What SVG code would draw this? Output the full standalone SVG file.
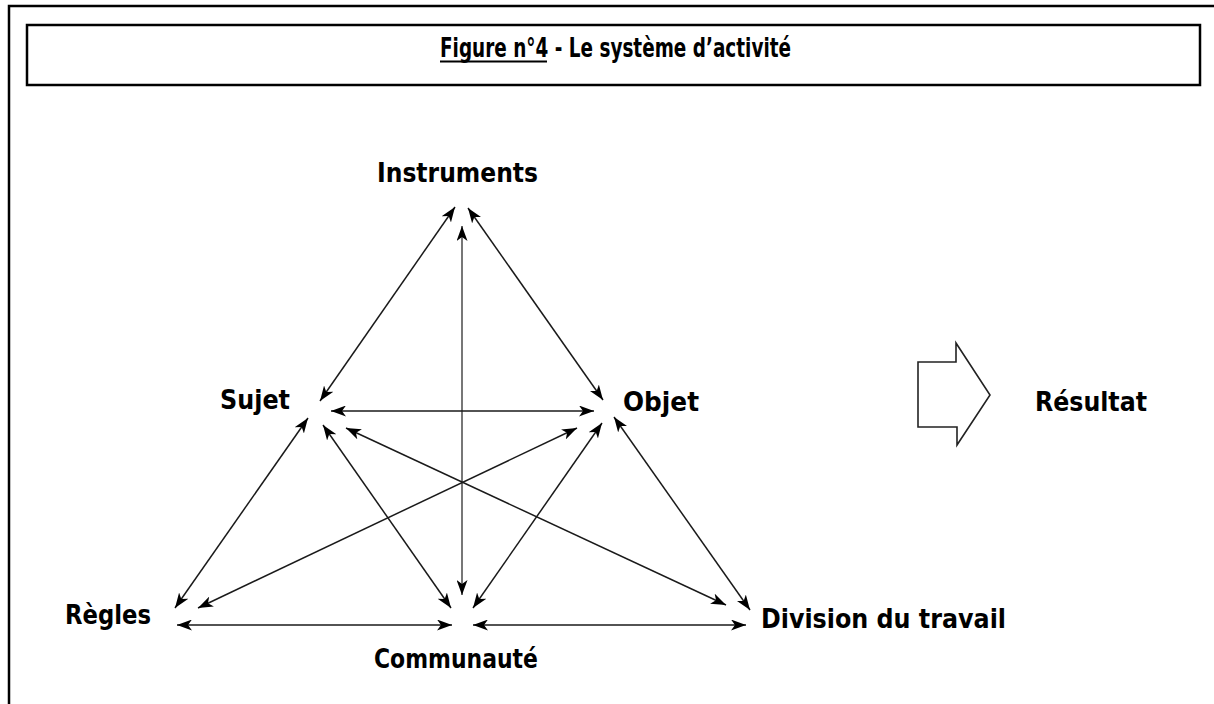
<svg xmlns="http://www.w3.org/2000/svg" width="1214" height="704" viewBox="0 0 1214 704">
<style>
.frame{fill:none;stroke:#000;stroke-width:2.5}
.lbl{font-family:"DejaVu Sans","Liberation Sans",sans-serif;font-weight:bold;font-size:26px;fill:#000}
.ttl{font-family:"DejaVu Sans","Liberation Sans",sans-serif;font-weight:bold;font-size:26px;fill:#000}
.c{fill:none;stroke:#1a1a1a;stroke-width:1.5;marker-start:url(#ah);marker-end:url(#ah)}
.v{stroke:#555;stroke-width:1.6}
.res{fill:#fff;stroke:#222;stroke-width:1.6;stroke-linejoin:miter}
</style>
<defs>
<marker id="ah" viewBox="0 0 15 11" refX="15" refY="5.5" markerWidth="15" markerHeight="11" markerUnits="userSpaceOnUse" orient="auto-start-reverse">
<path d="M0,0 L15,5.5 L0,11 L4,5.5 Z" fill="#000"/>
</marker>
</defs>
<rect width="1214" height="704" fill="#fff"/>
<path class="frame" d="M9,704 V6 H1214"/>
<g id="title">
<rect class="frame" x="27" y="25" width="1173" height="60"/>
<text class="ttl" x="440" y="57" textLength="351" lengthAdjust="spacingAndGlyphs">Figure n°4 - Le système d’activité</text>
<line x1="440" y1="61.5" x2="547" y2="61.5" stroke="#000" stroke-width="2"/>
</g>
<g id="connectors">
<line class="c" x1="455" y1="207" x2="320" y2="401"/>
<line class="c" x1="468" y1="208" x2="603" y2="400"/>
<line class="c v" x1="462" y1="226" x2="462" y2="595"/>
<line class="c" x1="331" y1="411" x2="594" y2="411"/>
<line class="c" x1="308" y1="418" x2="175" y2="608"/>
<line class="c" x1="323" y1="425" x2="451" y2="608"/>
<line class="c" x1="346" y1="428" x2="726" y2="605"/>
<line class="c" x1="577" y1="428" x2="198" y2="608"/>
<line class="c" x1="602" y1="423" x2="473" y2="608"/>
<line class="c" x1="614" y1="417" x2="750" y2="610"/>
<line class="c" x1="177" y1="625" x2="452" y2="625"/>
<line class="c" x1="473" y1="625" x2="746" y2="625"/>
</g>
<g id="instruments"><text class="lbl" x="377" y="182" textLength="161" lengthAdjust="spacingAndGlyphs">Instruments</text></g>
<g id="sujet"><text class="lbl" x="220" y="409" textLength="70" lengthAdjust="spacingAndGlyphs">Sujet</text></g>
<g id="objet"><text class="lbl" x="623" y="411" textLength="76" lengthAdjust="spacingAndGlyphs">Objet</text></g>
<g id="regles"><text class="lbl" x="65" y="624" textLength="86" lengthAdjust="spacingAndGlyphs">Règles</text></g>
<g id="communaute"><text class="lbl" x="374" y="668" textLength="164" lengthAdjust="spacingAndGlyphs">Communauté</text></g>
<g id="division"><text class="lbl" x="761" y="628" textLength="245" lengthAdjust="spacingAndGlyphs">Division du travail</text></g>
<g id="resultat">
<path class="res" d="M918,362 H956 V343 L990,395 L957,445 V427 H918 Z"/>
<text class="lbl" x="1035" y="411" textLength="112" lengthAdjust="spacingAndGlyphs">Résultat</text>
</g>
</svg>
